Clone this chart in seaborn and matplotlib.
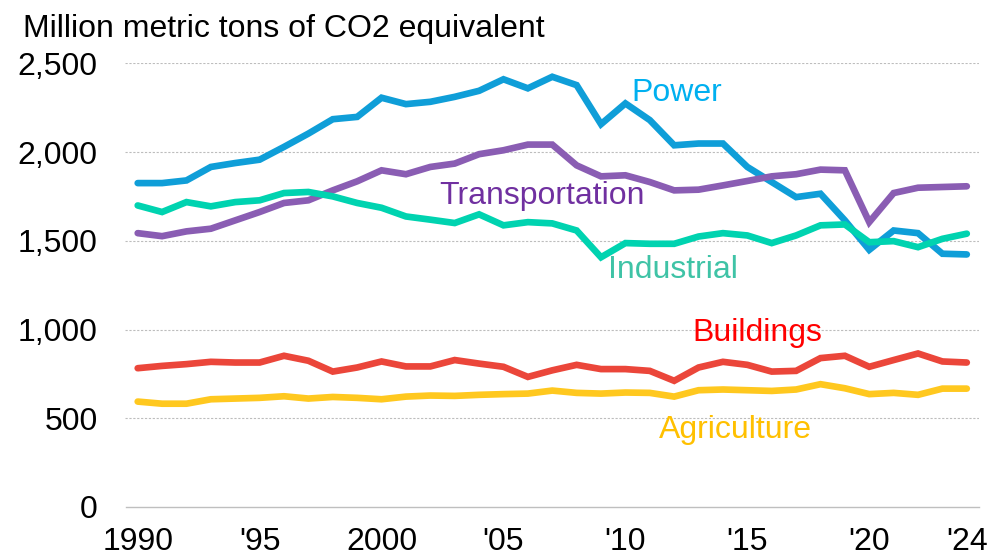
import matplotlib
matplotlib.use("Agg")
import matplotlib.pyplot as plt
import seaborn as sns
import pandas as pd
import numpy as np

years = list(range(1990, 2025))
power = [1825, 1825, 1840, 1916, 1938, 1957, 2029, 2104, 2185, 2198, 2306, 2270, 2283, 2311, 2345, 2410, 2359, 2424,
         2377, 2157, 2274, 2180, 2038, 2048, 2048, 1916, 1831, 1746, 1765, 1615, 1449, 1558, 1543, 1427, 1423]
transportation = [1543, 1526, 1553, 1568, 1615, 1662, 1713, 1728, 1784, 1835, 1897, 1875, 1916, 1935, 1988, 2010, 2042, 2042,
                  1925, 1863, 1869, 1831, 1784, 1788, 1812, 1837, 1863, 1875, 1901, 1897, 1605, 1769, 1799, 1803, 1807]
industrial = [1699, 1662, 1718, 1694, 1718, 1728, 1769, 1775, 1750, 1713, 1686, 1637, 1619, 1600, 1649, 1587, 1605, 1598,
              1558, 1407, 1487, 1483, 1483, 1524, 1543, 1530, 1487, 1530, 1587, 1592, 1492, 1498, 1464, 1511, 1540]
buildings = [782, 795, 805, 818, 814, 814, 852, 824, 763, 786, 820, 792, 792, 828, 808, 790, 733, 770,
             801, 777, 777, 767, 711, 786, 818, 801, 763, 767, 839, 852, 790, 828, 865, 820, 814]
agriculture = [594, 582, 582, 607, 611, 615, 624, 611, 620, 615, 607, 622, 628, 626, 632, 636, 639, 656,
               643, 639, 645, 643, 622, 658, 662, 658, 654, 662, 692, 669, 636, 643, 632, 667, 667]

sectors = ["Power", "Transportation", "Industrial", "Buildings", "Agriculture"]
line_colors = ["#0f9ed8", "#8a5db3", "#00d3b0", "#eb463a", "#ffc81f"]
label_colors = ["#00b0f0", "#7030a0", "#3fc3a6", "#ff0000", "#ffc000"]
tick_years = [1990, 1995, 2000, 2005, 2010, 2015, 2020, 2024]
tick_labels = ["1990", "'95", "2000", "'05", "'10", "'15", "'20", "'24"]
y_ticks = [0, 500, 1000, 1500, 2000, 2500]
y_tick_labels = ["0", "500", "1,000", "1,500", "2,000", "2,500"]

df = pd.DataFrame({"Year": years * 5,
                   "Value": power + transportation + industrial + buildings + agriculture,
                   "Sector": sum([[s] * len(years) for s in sectors], [])})

sns.set_style("white")
plt.rcParams["font.family"] = ["Liberation Sans", "DejaVu Sans"]
plt.rcParams["text.color"] = "black"
plt.rcParams["xtick.color"] = "black"
plt.rcParams["ytick.color"] = "black"

fig = plt.figure(figsize=(10.04, 5.59), dpi=100)
ax = fig.add_axes([125.5 / 1004, 1 - 507 / 559, (979 - 125.5) / 1004, (507 - 63.3) / 559])

sns.lineplot(data=df, x="Year", y="Value", hue="Sector", hue_order=sectors,
             palette=dict(zip(sectors, line_colors)), linewidth=4.8, legend=False, ax=ax,
             solid_capstyle="round", solid_joinstyle="miter")

ax.set_xlim(1989.5, 2024.5)
ax.set_ylim(0, 2500)
ax.set_yticks(y_ticks)
ax.set_yticklabels(y_tick_labels)
ax.set_xticks(tick_years)
ax.set_xticklabels(tick_labels)
ax.set_xticks(np.arange(1989.5, 2025, 1), minor=True)
ax.tick_params(axis="x", which="major", length=0, pad=14.5, labelsize=23, labelcolor="black")
ax.tick_params(axis="x", which="minor", length=8, width=1, color="#bfbfbf", direction="out")
ax.tick_params(axis="y", length=0, pad=20, labelsize=23, labelcolor="black")
ax.set_xlabel("")
ax.set_ylabel("")
for s in ["top", "right", "left"]:
    ax.spines[s].set_visible(False)
ax.spines["bottom"].set_color("#bfbfbf")
ax.spines["bottom"].set_linewidth(1)
for yv in y_ticks[1:]:
    ax.axhline(yv, color="#bdbdbd", linestyle=(0, (2, 1.5)), linewidth=0.8, zorder=0)

label_pos = {"Power": (2012.1, 2289), "Transportation": (2006.6, 1707),
             "Industrial": (2011.95, 1290), "Buildings": (2015.4, 937), "Agriculture": (2014.5, 390)}
for s, c in zip(sectors, label_colors):
    x, y = label_pos[s]
    ax.text(x, y, s, color=c, fontsize=23, ha="center", va="baseline")

fig.text(23 / 1004, 1 - 37.5 / 559, "Million metric tons of CO2 equivalent", fontsize=23,
         ha="left", va="baseline", color="black")

fig.savefig("out.png", dpi=100)
